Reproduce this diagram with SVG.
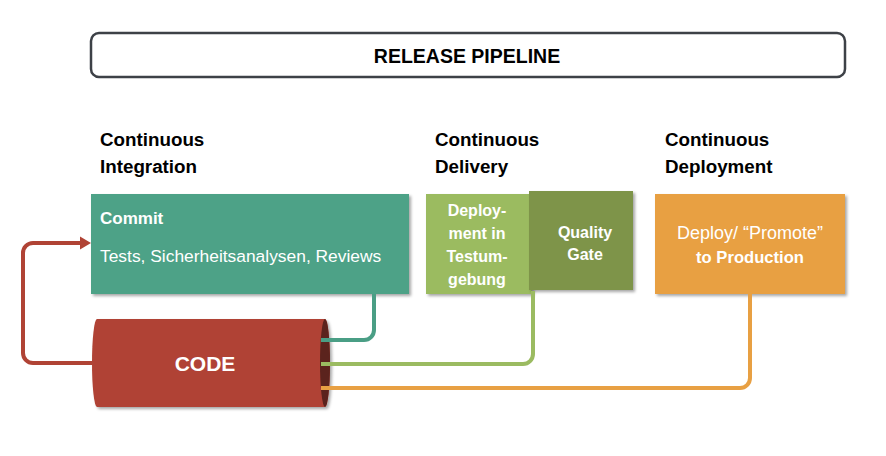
<svg xmlns="http://www.w3.org/2000/svg" width="886" height="456" viewBox="0 0 886 456">
<style>
  text { font-family: "Liberation Sans", Arial, sans-serif; }
  .head { font-size: 18.8px; font-weight: bold; fill: #000; }
  .w { fill: #fff; font-size: 16px; }
  .b { font-weight: bold; }
  .c { text-anchor: middle; }
  .conn { fill: none; stroke-width: 4; stroke-linecap: butt; }
</style>
<defs>
  <filter id="sh" x="-10%" y="-10%" width="125%" height="130%">
    <feDropShadow dx="2" dy="2" stdDeviation="1.5" flood-color="#000" flood-opacity="0.35"/>
  </filter>
</defs>
<rect width="886" height="456" fill="#fff"/>

<g id="title">
  <rect x="91" y="33" width="754" height="44" rx="8" fill="#fff" stroke="#3d4147" stroke-width="2.5"/>
  <text x="467" y="63" class="c b" style="font-size:19.5px">RELEASE PIPELINE</text>
</g>

<g id="headings">
  <text class="head" x="100" y="146">Continuous</text>
  <text class="head" x="100" y="173">Integration</text>
  <text class="head" x="435" y="146">Continuous</text>
  <text class="head" x="435" y="173">Delivery</text>
  <text class="head" x="665" y="146">Continuous</text>
  <text class="head" x="665" y="173">Deployment</text>
</g>

<g id="ci">
  <rect x="91" y="194" width="318" height="100" fill="#4ea287" filter="url(#sh)"/>
  <text class="w b" x="100" y="224" style="font-size:17px">Commit</text>
  <text class="w" x="100" y="262" style="font-size:17.4px">Tests, Sicherheitsanalysen, Reviews</text>
</g>

<g id="deploy-test">
  <rect x="426" y="194" width="106" height="100" fill="#9bbb61" filter="url(#sh)"/>
  <text class="w b c" x="477" y="216">Deploy-</text>
  <text class="w b c" x="477" y="239">ment in</text>
  <text class="w b c" x="477" y="262">Testum-</text>
  <text class="w b c" x="477" y="285">gebung</text>
</g>

<g id="quality-gate">
  <rect x="529" y="191" width="104" height="99" fill="#7e9449" filter="url(#sh)"/>
  <text class="w b c" x="585" y="238">Quality</text>
  <text class="w b c" x="585" y="260">Gate</text>
</g>

<g id="cdeploy">
  <rect x="655" y="194" width="190" height="100" fill="#e8a043" filter="url(#sh)"/>
  <text class="w c" x="750" y="239" style="font-size:18px">Deploy/ “Promote”</text>
  <text class="w b c" x="750" y="263" style="font-size:16.6px">to Production</text>
</g>

<g id="code">
  <path d="M97 319 H325 A5 44 0 0 1 325 407 H97 A5 44 0 0 1 97 319 Z" fill="#b04335" filter="url(#sh)"/>
  <ellipse cx="325" cy="363" rx="5" ry="44" fill="#5b231d"/>
  <text class="w c b" x="205" y="371" style="font-size:21px">CODE</text>
</g>

<g id="connectors">
  <path class="conn" stroke="#b04335" d="M93 363 H33 A10 10 0 0 1 23 353 V253 A10 10 0 0 1 33 243 H82"/>
  <polygon points="91,243 80,236.5 80,249.5" fill="#b04335"/>
  <path class="conn" stroke="#4a9e85" d="M321 340 H364 A10 10 0 0 0 374 330 V294"/>
  <path class="conn" stroke="#9bbb61" d="M321 364 H523 A10 10 0 0 0 533 354 V291"/>
  <path class="conn" stroke="#e8a043" d="M321 388 H740 A10 10 0 0 0 750 378 V294"/>
</g>
</svg>
